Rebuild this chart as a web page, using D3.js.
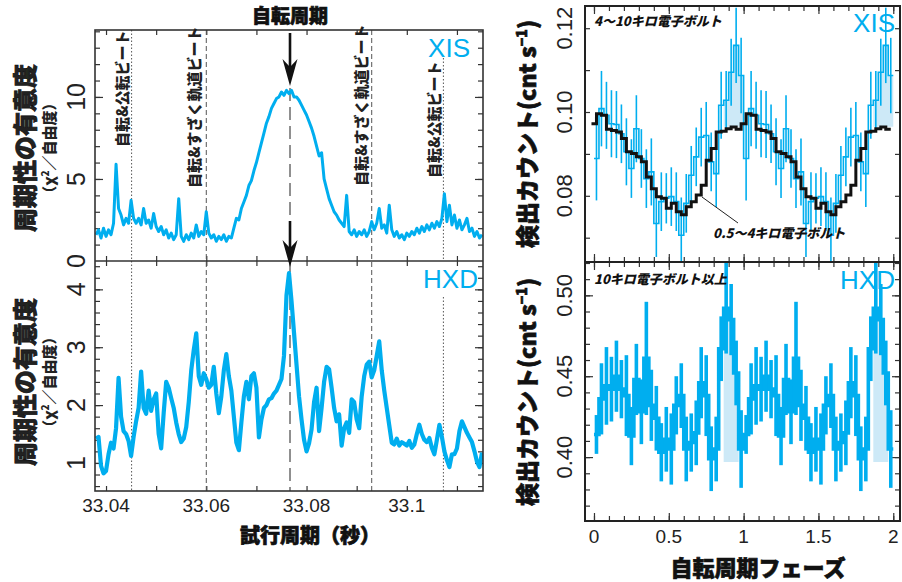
<!DOCTYPE html>
<html>
<head>
<meta charset="utf-8">
<script src="https://cdn.jsdelivr.net/npm/d3@7"></script>
<style>
  body { margin: 0; background: #fff; }
  svg text { font-family: "Liberation Sans", Arial, sans-serif; }
  svg .jp { font-family: "Noto Sans CJK JP", sans-serif; font-weight: 900; }
  svg .heavy { stroke: #111; stroke-width: 0.7px; }
</style>
</head>
<body>
<svg id="chart" width="902" height="582"></svg>
<script>
// ---- data ----
// trial period grid (s) for the periodogram
const periodStart = 33.038, periodStep = 0.0005;
// XIS periodogram, chi2 / dof
const xisPower = [
  1.6,1.9,1.4,2.0,1.5,1.9,1.6,2.3,5.9,3.2,
  2.8,2.2,2.6,2.3,3.7,2.6,2.3,2.6,2.2,3.2,
  2.3,2.5,2.0,2.9,2.1,1.8,2.1,1.6,1.9,1.4,
  1.7,1.3,1.6,3.8,1.5,1.2,1.6,1.3,1.7,1.4,
  2.2,1.5,1.8,1.6,3.0,1.7,1.4,1.6,1.2,1.5,
  1.3,1.6,1.2,1.5,1.4,2.0,2.6,2.5,3.2,3.6,
  4.0,4.6,4.9,5.5,6.0,6.6,7.2,7.8,8.4,8.8,
  9.3,9.6,9.9,10.0,10.3,10.1,10.4,10.2,10.4,10.0,
  10.0,9.8,9.5,9.2,8.9,8.5,8.1,7.6,7.0,6.4,
  6.6,5.0,4.4,3.8,3.4,3.0,2.8,2.5,2.3,2.1,
  4.0,1.8,1.6,1.9,1.5,1.8,1.6,1.9,1.5,1.8,
  2.4,1.9,2.3,3.2,2.0,2.2,1.7,3.4,1.9,1.5,
  1.8,1.4,1.6,1.3,1.7,1.5,1.8,1.6,2.0,1.7,
  2.1,1.8,2.2,1.9,2.3,2.0,2.4,2.1,2.6,4.1,
  2.4,3.4,2.2,2.8,2.0,2.5,1.9,2.2,2.6,1.8,
  2.0,1.5,1.8,1.4,1.6
];
// HXD periodogram, chi2 / dof
const hxdPower = [
  1.42,1.45,0.95,0.82,0.86,1.15,1.35,1.25,1.60,2.47,
  1.80,1.55,1.50,1.38,1.12,1.45,1.72,1.95,2.58,1.95,
  1.85,2.25,1.90,2.10,2.20,1.50,1.25,1.86,2.40,2.30,
  2.12,1.95,1.70,1.50,1.36,1.42,1.62,2.05,2.60,2.95,
  3.24,2.50,2.35,2.55,2.45,2.30,2.35,2.66,2.20,1.86,
  2.15,2.60,2.88,2.50,2.25,1.80,1.35,1.22,1.70,2.15,
  2.40,2.10,2.50,2.55,2.30,1.44,1.75,1.95,2.00,2.10,
  2.12,2.20,2.25,2.35,2.45,2.85,3.90,4.28,3.80,3.25,
  2.70,2.15,1.75,1.40,1.20,1.34,1.58,2.05,2.30,1.55,
  1.95,2.40,2.66,2.62,2.30,1.95,1.72,1.84,1.30,1.60,
  1.70,1.52,2.10,2.05,1.75,1.60,2.15,2.50,2.70,2.75,
  2.48,2.60,2.85,3.10,2.60,2.25,1.95,1.65,1.35,1.32,
  1.42,1.30,1.36,1.33,1.30,1.38,1.26,1.32,1.50,1.66,
  1.50,1.40,1.36,1.43,1.26,1.15,1.40,1.66,1.45,1.20,
  1.05,0.93,1.15,1.15,1.25,1.55,1.72,1.62,1.52,1.44,
  1.36,1.20,1.02,0.93,1.18
];
const spinPeriod = 33.0767;
const beatPeriods = [33.0451, 33.0600, 33.0930, 33.1073];
const beatLabels = ["自転&公転ビート", "自転&すざく軌道ビート", "自転&すざく軌道ビート", "自転&公転ビート"];
const xTickLabelsL = [33.04, 33.06, 33.08, 33.1];

// folded light curves, 30 phase bins per cycle (plotted twice)
const phaseBins = 30;
const xisRate = [0.0889,0.1008,0.0992,0.0972,0.0970,0.0948,0.0905,0.0865,0.0960,0.0889,
                 0.0841,0.0857,0.0734,0.0786,0.0794,0.0798,0.0786,0.0706,0.0782,0.0849,
                 0.0893,0.0940,0.0944,0.0881,0.0853,0.1016,0.1028,0.1095,0.1159,0.1087];
const xisErr = [0.010,0.009,0.008,0.008,0.008,0.007,0.008,0.007,0.008,0.007,
                0.007,0.008,0.008,0.007,0.006,0.007,0.007,0.009,0.007,0.007,
                0.007,0.007,0.008,0.007,0.008,0.008,0.007,0.008,0.009,0.009];
const softRate = [0.0972,0.0996,0.0992,0.0959,0.0956,0.0952,0.0937,0.0905,0.0901,0.0893,
                  0.0881,0.0845,0.0817,0.0798,0.0794,0.0770,0.0782,0.0762,0.0755,0.0774,
                  0.0786,0.0802,0.0825,0.0885,0.0913,0.0952,0.0954,0.0960,0.0964,0.0959];
const hxdRate = [0.414,0.436,0.444,0.442,0.450,0.442,0.438,0.413,0.448,0.428,
                 0.461,0.432,0.424,0.403,0.411,0.405,0.432,0.438,0.405,0.409,
                 0.415,0.446,0.438,0.399,0.405,0.467,0.492,0.485,0.452,0.405];
const hxdErr = [0.012,0.022,0.024,0.020,0.022,0.018,0.025,0.018,0.022,0.020,
                0.035,0.022,0.020,0.018,0.020,0.022,0.018,0.020,0.020,0.018,
                0.020,0.022,0.025,0.020,0.020,0.020,0.028,0.022,0.020,0.024];
const xTickLabelsR = [0, 0.5, 1, 1.5, 2];

// ---- layout ----
const CYAN = "#00aeef", SHADE = "#cde9f7";
const svg = d3.select("#chart");

const L = { x0: 95, x1: 483, top: 30, mid: 261, bot: 491 };
const R = { x0: 585, x1: 900, top: 6, mid: 262, bot: 521 };

const xL = d3.scaleLinear().domain([33.0378, 33.1152]).range([L.x0, L.x1]);
const yXis = d3.scaleLinear().domain([0, 14.08]).range([L.mid, L.top]);
const yHxd = d3.scaleLinear().domain([0.515, 4.49]).range([L.bot, L.mid]);
const xR = d3.scaleLinear().domain([-0.06, 2.045]).range([R.x0, R.x1]);
const yRx = d3.scaleLinear().domain([0.0642, 0.1253]).range([R.mid, R.top]);
const yRh = d3.scaleLinear().domain([0.3605, 0.5206]).range([R.bot, R.mid]);

const periods = xisPower.map((d, i) => periodStart + i * periodStep);

// clip paths
const defs = svg.append("defs");
function clip(id, x, y) {
  defs.append("clipPath").attr("id", id).append("rect")
    .attr("x", x.range()[0]).attr("y", y.range()[1])
    .attr("width", x.range()[1] - x.range()[0]).attr("height", y.range()[0] - y.range()[1]);
  return "url(#" + id + ")";
}

// inward ticks on all four sides
function frameTicks(x, y, xv, yv, xMajor, yMajor, len, lenMajor) {
  const g = svg.append("g").attr("class", "ticks");
  const [xa, xb] = x.range(), [ya, yb] = y.range();
  [[xv, len], [xMajor, lenMajor]].forEach(([vals, l]) => {
    g.append("g").attr("transform", `translate(0,${ya})`)
      .call(d3.axisBottom(x).tickValues(vals).tickSize(-l).tickFormat(""));
    g.append("g").attr("transform", `translate(0,${yb})`)
      .call(d3.axisTop(x).tickValues(vals).tickSize(-l).tickFormat(""));
  });
  [[yv, len], [yMajor, lenMajor]].forEach(([vals, l]) => {
    g.append("g").attr("transform", `translate(${xa},0)`)
      .call(d3.axisLeft(y).tickValues(vals).tickSize(-l).tickFormat(""));
    g.append("g").attr("transform", `translate(${xb},0)`)
      .call(d3.axisRight(y).tickValues(vals).tickSize(-l).tickFormat(""));
  });
  g.selectAll(".domain").remove();
  g.selectAll("line").attr("stroke", "#333").attr("stroke-width", 1.2);
}

// rotated (bottom-to-top) text
function vtext(x, y, str, size, anchor, cls) {
  return svg.append("text").attr("class", cls || null)
    .attr("transform", `translate(${x},${y}) rotate(-90)`)
    .attr("text-anchor", anchor).attr("font-size", size).attr("fill", "#222")
    .text(str);
}

// ======== left: periodograms ========
const lTicksX = d3.range(33.04, 33.1151, 0.01);
frameTicks(xL, yXis, lTicksX, d3.range(1, 15, 1), [], [5, 10], 5, 8);
frameTicks(xL, yHxd, lTicksX, d3.range(0.6, 4.5, 0.2), [], [1, 2, 3, 4], 5, 8);

// beat and spin lines
const beatG = svg.append("g");
const beatDash = ["1.5,2", "5,3", "5,3", "1.5,2"];
beatPeriods.forEach((p, i) => {
  const segs = i === 3 ? [[58, L.mid], [297, L.bot]] : [[L.top, L.bot]];
  segs.forEach(s => beatG.append("line")
    .attr("x1", xL(p)).attr("x2", xL(p)).attr("y1", s[0]).attr("y2", s[1])
    .attr("stroke", "#555").attr("stroke-width", 1).attr("stroke-dasharray", beatDash[i]));
});
beatG.append("line")
  .attr("x1", xL(spinPeriod)).attr("x2", xL(spinPeriod)).attr("y1", 88).attr("y2", L.bot)
  .attr("stroke", "#555").attr("stroke-width", 1.3).attr("stroke-dasharray", "13,6");

// curves
const xisLine = d3.line().x((d, i) => xL(periods[i])).y(d => yXis(d));
svg.append("path").datum(xisPower)
  .attr("clip-path", clip("clipXis", xL, yXis))
  .attr("d", xisLine).attr("fill", "none").attr("stroke", CYAN)
  .attr("stroke-width", 3).attr("stroke-linejoin", "round");

const hxdLine = d3.line().x((d, i) => xL(periods[i])).y(d => yHxd(d));
svg.append("path").datum(hxdPower)
  .attr("clip-path", clip("clipHxd", xL, yHxd))
  .attr("d", hxdLine).attr("fill", "none").attr("stroke", CYAN)
  .attr("stroke-width", 4.2).attr("stroke-linejoin", "round");

// frames
svg.append("rect").attr("x", L.x0).attr("y", L.top).attr("width", L.x1 - L.x0).attr("height", L.bot - L.top)
  .attr("fill", "none").attr("stroke", "#333").attr("stroke-width", 1.6);
svg.append("line").attr("x1", L.x0).attr("x2", L.x1).attr("y1", L.mid).attr("y2", L.mid)
  .attr("stroke", "#333").attr("stroke-width", 1.6);

// arrows at the spin period
function arrow(x, y0, tip) {
  svg.append("line").attr("x1", x).attr("x2", x).attr("y1", y0).attr("y2", tip - 14)
    .attr("stroke", "#111").attr("stroke-width", 2.6);
  svg.append("path")
    .attr("d", `M${x},${tip} L${x - 7.5},${tip - 27} L${x},${tip - 19} L${x + 7.5},${tip - 27} Z`)
    .attr("fill", "#111");
}
arrow(xL(spinPeriod), 33, 86);
arrow(xL(spinPeriod), 221, 267);

// beat labels
const beatLabelPos = [[128, 147], [200, 188], [367, 186], [440, 178]];
beatLabels.forEach((t, i) => vtext(beatLabelPos[i][0], beatLabelPos[i][1], t, 15, "start", "jp"));

// tick labels
[0, 5, 10].forEach(v => vtext(85, yXis(v), v, 25, "middle"));
[1, 2, 3, 4].forEach(v => vtext(85, yHxd(v), v, 25, "middle"));
xTickLabelsL.forEach(v => svg.append("text").attr("x", xL(v)).attr("y", 512)
  .attr("text-anchor", "middle").attr("font-size", 19).attr("fill", "#222").text(v));

// titles
svg.append("text").attr("class", "jp heavy").attr("x", xL(spinPeriod)).attr("y", 23)
  .attr("text-anchor", "middle").attr("font-size", 19).attr("fill", "#111").text("自転周期");
svg.append("text").attr("class", "jp heavy").attr("x", 310).attr("y", 543)
  .attr("text-anchor", "middle").attr("font-size", 20).attr("fill", "#111").text("試行周期（秒）");
[148, 382].forEach(cy => {
  vtext(34, cy, "周期性の有意度", 24, "middle", "jp heavy");
  const t = svg.append("text").attr("class", "jp")
    .attr("transform", `translate(55,${cy}) rotate(-90)`)
    .attr("text-anchor", "middle").attr("font-size", 15).attr("fill", "#222");
  t.append("tspan").text("（χ");
  t.append("tspan").attr("dy", -6).attr("font-size", 10).text("2");
  t.append("tspan").attr("dy", 6).text("／自由度）");
});
svg.append("text").attr("x", 470).attr("y", 57).attr("text-anchor", "end")
  .attr("font-size", 26).attr("fill", CYAN).text("XIS");
svg.append("text").attr("x", 478).attr("y", 288).attr("text-anchor", "end")
  .attr("font-size", 26).attr("fill", CYAN).text("HXD");

// ======== right: folded light curves ========
const phaseEdges = d3.range(2 * phaseBins + 1).map(i => i / phaseBins);
const softEdges = d3.range(2 * phaseBins + 1).map(i => (i - 0.5) / phaseBins);
const xis2 = xisRate.concat(xisRate), xisErr2 = xisErr.concat(xisErr);
const soft2 = softRate.concat(softRate);
const hxd2 = hxdRate.concat(hxdRate), hxdErr2 = hxdErr.concat(hxdErr);

const stepPts = (edges, vals) => edges.map((e, i) => [e, vals[Math.min(i, vals.length - 1)]]);

function lightCurve(y, vals, errs, id, width, shadeBase, shadeBins) {
  const g = svg.append("g").attr("clip-path", clip(id, xR, y));
  // shaded pulse
  [0, phaseBins].forEach(off => {
    const pts = d3.range(shadeBins[0], shadeBins[1] + 2)
      .map(i => [phaseEdges[i + off], vals[Math.min(i + off, vals.length - 1)]]);
    g.append("path").datum(pts)
      .attr("d", d3.area().x(d => xR(d[0])).y0(y(shadeBase)).y1(d => y(d[1])).curve(d3.curveStepAfter))
      .attr("fill", SHADE);
  });
  g.append("path").datum(stepPts(phaseEdges, vals))
    .attr("d", d3.line().x(d => xR(d[0])).y(d => y(d[1])).curve(d3.curveStepAfter))
    .attr("fill", "none").attr("stroke", CYAN).attr("stroke-width", width);
  g.selectAll("line.err").data(vals).join("line").attr("class", "err")
    .attr("x1", (d, i) => xR((i + 0.5) / phaseBins)).attr("x2", (d, i) => xR((i + 0.5) / phaseBins))
    .attr("y1", (d, i) => y(d - errs[i])).attr("y2", (d, i) => y(d + errs[i]))
    .attr("stroke", CYAN).attr("stroke-width", width);
  return g;
}

const rTicksX = d3.range(0, 2.01, 0.1);
frameTicks(xR, yRx, rTicksX, d3.range(0.07, 0.1251, 0.01), [0, 0.5, 1, 1.5, 2], [], 5, 8);
frameTicks(xR, yRh, rTicksX, d3.range(0.37, 0.521, 0.01), [0, 0.5, 1, 1.5, 2], [0.4, 0.45, 0.5], 5, 8);

const gx = lightCurve(yRx, xis2, xisErr2, "clipRx", 1.6, 0.0965, [26, 29]);
gx.append("path").datum(stepPts(softEdges, soft2))
  .attr("d", d3.line().x(d => xR(d[0])).y(d => yRx(d[1])).curve(d3.curveStepAfter))
  .attr("fill", "none").attr("stroke", "#111").attr("stroke-width", 3);
lightCurve(yRh, hxd2, hxdErr2, "clipRh", 3.6, 0.397, [26, 28]);

svg.append("rect").attr("x", R.x0).attr("y", R.top).attr("width", R.x1 - R.x0).attr("height", R.bot - R.top)
  .attr("fill", "none").attr("stroke", "#222").attr("stroke-width", 2);
svg.append("line").attr("x1", R.x0).attr("x2", R.x1).attr("y1", R.mid).attr("y2", R.mid)
  .attr("stroke", "#222").attr("stroke-width", 2);

// leader line for the soft band
svg.append("line").attr("x1", 702).attr("y1", 197).attr("x2", 738).attr("y2", 223)
  .attr("stroke", "#222").attr("stroke-width", 1);

// tick labels
[0.08, 0.10, 0.12].forEach(v => vtext(572, yRx(v), v.toFixed(2), 22, "middle"));
[0.40, 0.45, 0.50].forEach(v => vtext(572, yRh(v), v.toFixed(2), 22, "middle"));
xTickLabelsR.forEach(v => svg.append("text").attr("x", xR(v)).attr("y", 543)
  .attr("text-anchor", "middle").attr("font-size", 19).attr("fill", "#222").text(v));

// titles and labels
[134, 392].forEach(cy => {
  const t = svg.append("text").attr("class", "jp heavy")
    .attr("transform", `translate(536,${cy}) rotate(-90)`)
    .attr("text-anchor", "middle").attr("font-size", 23).attr("fill", "#111");
  t.append("tspan").text("検出カウント(cnt s");
  t.append("tspan").attr("dy", -9).attr("font-size", 14).text("−1");
  t.append("tspan").attr("dy", 9).text(")");
});
svg.append("text").attr("class", "jp heavy").attr("x", 758).attr("y", 576)
  .attr("text-anchor", "middle").attr("font-size", 22).attr("fill", "#111").text("自転周期フェーズ");

const bandLabel = (x, y, t) => svg.append("text").attr("class", "jp")
  .attr("x", x).attr("y", y).attr("font-size", 13).attr("font-style", "italic")
  .attr("fill", "#111").text(t);
bandLabel(594, 26, "4〜10キロ電子ボルト");
bandLabel(713, 238, "0.5〜4キロ電子ボルト");
bandLabel(594, 284, "10キロ電子ボルト以上");

svg.append("text").attr("x", 895).attr("y", 32).attr("text-anchor", "end")
  .attr("font-size", 26).attr("fill", CYAN).text("XIS");
svg.append("text").attr("x", 895).attr("y", 289).attr("text-anchor", "end")
  .attr("font-size", 26).attr("fill", CYAN).text("HXD");
</script>
</body>
</html>
